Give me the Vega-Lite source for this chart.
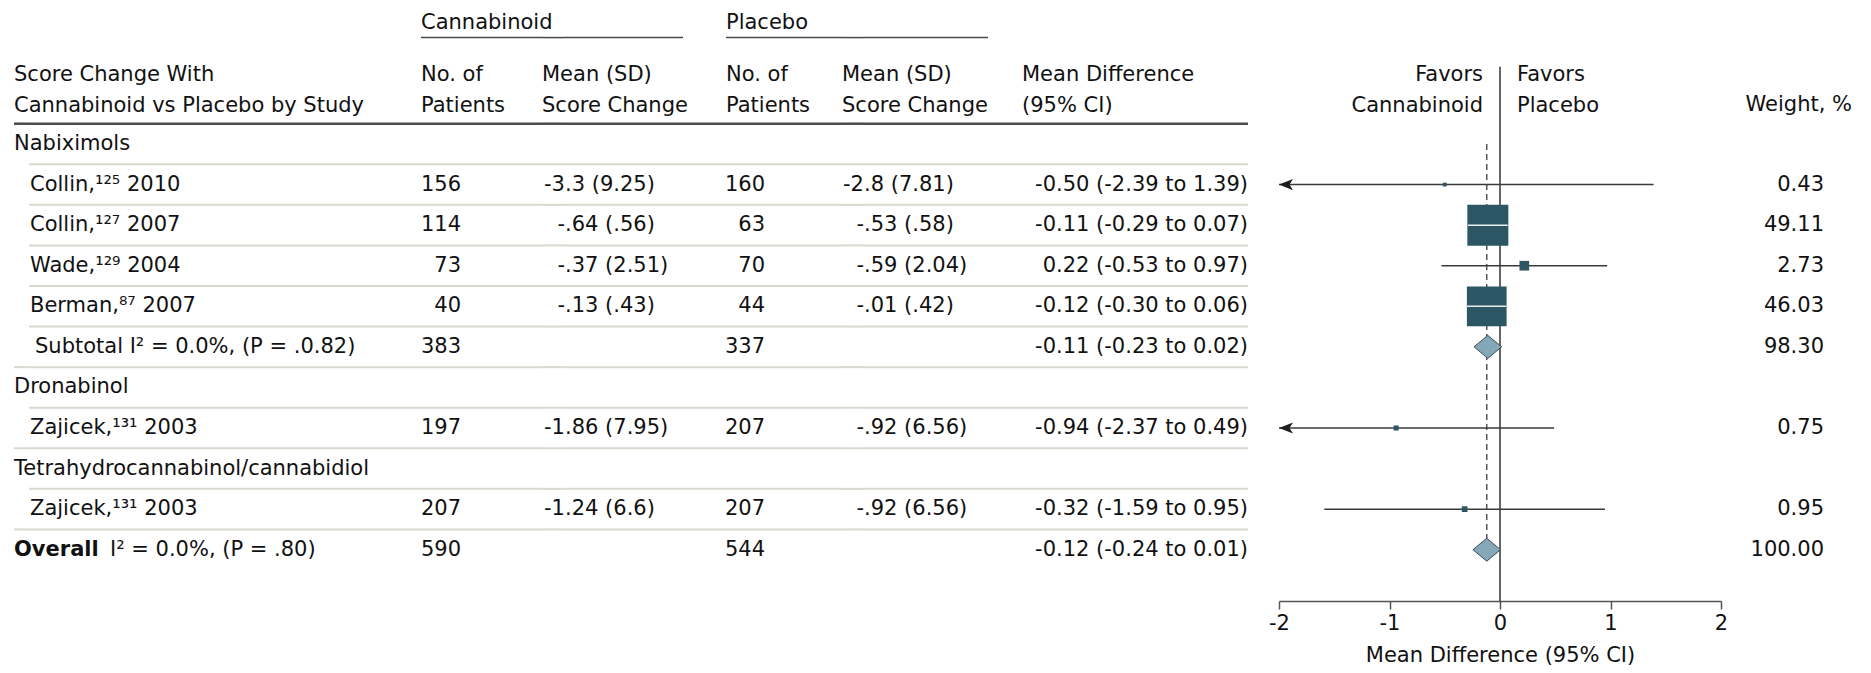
{
  "$schema": "https://vega.github.io/schema/vega-lite/v6.json",
  "background": "white",
  "padding": {"left": 12, "top": 0, "right": 0, "bottom": 0},
  "spacing": 0,
  "bounds": "flush",
  "datasets": {
    "rows": [
      {"id": "g1", "kind": "group", "label": "Nabiximols"},
      {"id": "s1", "kind": "study", "label": "Collin,¹²⁵ 2010", "cN": 156, "cInt": "-3", "cFrac": ".3 (9.25)", "pN": 160, "pInt": "-2", "pFrac": ".8 (7.81)", "md": -0.50, "lo": -2.39, "hi": 1.39, "mdText": "-0.50 (-2.39 to 1.39)", "weight": 0.43},
      {"id": "s2", "kind": "study", "label": "Collin,¹²⁷ 2007", "cN": 114, "cInt": "-", "cFrac": ".64 (.56)", "pN": 63, "pInt": "-", "pFrac": ".53 (.58)", "md": -0.11, "lo": -0.29, "hi": 0.07, "mdText": "-0.11 (-0.29 to 0.07)", "weight": 49.11},
      {"id": "s3", "kind": "study", "label": "Wade,¹²⁹ 2004", "cN": 73, "cInt": "-", "cFrac": ".37 (2.51)", "pN": 70, "pInt": "-", "pFrac": ".59 (2.04)", "md": 0.22, "lo": -0.53, "hi": 0.97, "mdText": "0.22 (-0.53 to 0.97)", "weight": 2.73},
      {"id": "s4", "kind": "study", "label": "Berman,⁸⁷ 2007", "cN": 40, "cInt": "-", "cFrac": ".13 (.43)", "pN": 44, "pInt": "-", "pFrac": ".01 (.42)", "md": -0.12, "lo": -0.30, "hi": 0.06, "mdText": "-0.12 (-0.30 to 0.06)", "weight": 46.03},
      {"id": "sub", "kind": "subtotal", "last": true, "label": "Subtotal  I² = 0.0%, (P = .0.82)", "cN": 383, "pN": 337, "md": -0.11, "lo": -0.23, "hi": 0.02, "mdText": "-0.11 (-0.23 to 0.02)", "weight": 98.30},
      {"id": "g2", "kind": "group", "label": "Dronabinol"},
      {"id": "s5", "kind": "study", "last": true, "label": "Zajicek,¹³¹ 2003", "cN": 197, "cInt": "-1", "cFrac": ".86 (7.95)", "pN": 207, "pInt": "-", "pFrac": ".92 (6.56)", "md": -0.94, "lo": -2.37, "hi": 0.49, "mdText": "-0.94 (-2.37 to 0.49)", "weight": 0.75},
      {"id": "g3", "kind": "group", "label": "Tetrahydrocannabinol/cannabidiol"},
      {"id": "s6", "kind": "study", "last": true, "label": "Zajicek,¹³¹ 2003", "cN": 207, "cInt": "-1", "cFrac": ".24 (6.6)", "pN": 207, "pInt": "-", "pFrac": ".92 (6.56)", "md": -0.32, "lo": -1.59, "hi": 0.95, "mdText": "-0.32 (-1.59 to 0.95)", "weight": 0.95},
      {"id": "ov", "kind": "overall", "label": "Overall", "stat": "I² = 0.0%, (P = .80)", "cN": 590, "pN": 544, "md": -0.12, "lo": -0.24, "hi": 0.01, "mdText": "-0.12 (-0.24 to 0.01)", "weight": 100.00}
    ],
    "headers": [
      {"col": "label", "text": "Score Change With\nCannabinoid vs Placebo by Study"},
      {"col": "cN", "text": "No. of\nPatients"},
      {"col": "cMean", "text": "Mean (SD)\nScore Change"},
      {"col": "pN", "text": "No. of\nPatients"},
      {"col": "pMean", "text": "Mean (SD)\nScore Change"},
      {"col": "md", "text": "Mean Difference\n(95% CI)"},
      {"col": "favL", "text": "Favors\nCannabinoid"},
      {"col": "favR", "text": "Favors\nPlacebo"},
      {"col": "wt", "text": "Weight, %"},
      {"col": "grpC", "text": "Cannabinoid"},
      {"col": "grpP", "text": "Placebo"}
    ]
  },
  "data": {"name": "rows"},
  "hconcat": [
    {
      "width": 15, "height": 601,
      "layer": [
        {"transform": [{"filter": "datum.last == true"}], "mark": {"type": "rule", "stroke": "#d8d8cf", "strokeWidth": 2}, "encoding": {"y": {"field": "id", "type": "nominal", "scale": {"type": "band", "domain": ["h0","h1","h2","g1","s1","s2","s3","s4","sub","g2","s5","g3","s6","ov"], "range": [2, 570], "paddingInner": 0, "paddingOuter": 0}, "axis": null, "bandPosition": 1}}},
        {"transform": [{"filter": "datum.id == 'g1'"}], "mark": {"type": "rule", "stroke": "#4a4a4a", "strokeWidth": 2.5}, "encoding": {"y": {"field": "id", "type": "nominal", "axis": null, "bandPosition": 0}}},
        {"data": {"name": "headers"}, "transform": [{"filter": "datum.col == 'label'"}], "mark": {"type": "text", "align": "left", "dy": 12}, "encoding": {"x": {"datum": "c", "type": "nominal", "scale": {"type": "band", "domain": ["c"], "paddingInner": 0, "paddingOuter": 0}, "axis": null, "bandPosition": 0}, "y": {"datum": "h1", "type": "nominal", "axis": null}, "text": {"field": "text", "type": "nominal"}}},
        {"transform": [{"filter": "datum.kind == 'group'"}], "mark": {"type": "text", "align": "left"}, "encoding": {"x": {"datum": "c", "type": "nominal", "axis": null, "bandPosition": 0}, "y": {"field": "id", "type": "nominal", "axis": null}, "text": {"field": "label", "type": "nominal"}}},
        {"transform": [{"filter": "datum.kind == 'overall'"}], "mark": {"type": "text", "align": "left", "fontWeight": "bold"}, "encoding": {"x": {"datum": "c", "type": "nominal", "axis": null, "bandPosition": 0}, "y": {"field": "id", "type": "nominal", "axis": null}, "text": {"field": "label", "type": "nominal"}}},
        {"transform": [{"filter": "datum.kind == 'overall'"}], "mark": {"type": "text", "align": "left", "dx": 96}, "encoding": {"x": {"datum": "c", "type": "nominal", "axis": null, "bandPosition": 0}, "y": {"field": "id", "type": "nominal", "axis": null}, "text": {"field": "stat", "type": "nominal"}}}
      ]
    },
    {
      "width": 392, "height": 601,
      "layer": [
        {"transform": [{"filter": "datum.kind != 'overall'"}], "mark": {"type": "rule", "stroke": "#d8d8cf", "strokeWidth": 2}, "encoding": {"y": {"field": "id", "type": "nominal", "scale": {"type": "band", "domain": ["h0","h1","h2","g1","s1","s2","s3","s4","sub","g2","s5","g3","s6","ov"], "range": [2, 570], "paddingInner": 0, "paddingOuter": 0}, "axis": null, "bandPosition": 1}}},
        {"transform": [{"filter": "datum.id == 'g1'"}], "mark": {"type": "rule", "stroke": "#4a4a4a", "strokeWidth": 2.5}, "encoding": {"y": {"field": "id", "type": "nominal", "axis": null, "bandPosition": 0}}},
        {"transform": [{"filter": "datum.kind == 'study'"}], "mark": {"type": "text", "align": "left", "dx": 1}, "encoding": {"x": {"datum": "c", "type": "nominal", "scale": {"type": "band", "domain": ["c"], "paddingInner": 0, "paddingOuter": 0}, "axis": null, "bandPosition": 0}, "y": {"field": "id", "type": "nominal", "axis": null}, "text": {"field": "label", "type": "nominal"}}},
        {"transform": [{"filter": "datum.kind == 'subtotal'"}], "mark": {"type": "text", "align": "left", "dx": 6}, "encoding": {"x": {"datum": "c", "type": "nominal", "axis": null, "bandPosition": 0}, "y": {"field": "id", "type": "nominal", "axis": null}, "text": {"field": "label", "type": "nominal"}}}
      ]
    },
    {
      "width": 40, "height": 601,
      "layer": [
        {"transform": [{"filter": "datum.kind != 'overall'"}], "mark": {"type": "rule", "stroke": "#d8d8cf", "strokeWidth": 2}, "encoding": {"y": {"field": "id", "type": "nominal", "scale": {"type": "band", "domain": ["h0","h1","h2","g1","s1","s2","s3","s4","sub","g2","s5","g3","s6","ov"], "range": [2, 570], "paddingInner": 0, "paddingOuter": 0}, "axis": null, "bandPosition": 1}}},
        {"transform": [{"filter": "datum.id == 'g1'"}], "mark": {"type": "rule", "stroke": "#4a4a4a", "strokeWidth": 2.5}, "encoding": {"y": {"field": "id", "type": "nominal", "axis": null, "bandPosition": 0}}},
        {"transform": [{"filter": "datum.id == 'g1'"}], "mark": {"type": "rule", "stroke": "#4a4a4a", "strokeWidth": 1.5, "yOffset": -5}, "encoding": {"y": {"datum": "h0", "type": "nominal", "axis": null, "bandPosition": 1}}},
        {"data": {"name": "headers"}, "transform": [{"filter": "datum.col == 'cN'"}], "mark": {"type": "text", "align": "left", "dy": 12}, "encoding": {"x": {"datum": "c", "type": "nominal", "scale": {"type": "band", "domain": ["c"], "paddingInner": 0, "paddingOuter": 0}, "axis": null, "bandPosition": 0}, "y": {"datum": "h1", "type": "nominal", "axis": null}, "text": {"field": "text", "type": "nominal"}}},
        {"data": {"name": "headers"}, "transform": [{"filter": "datum.col == 'grpC'"}], "mark": {"type": "text", "align": "left", "dy": 1}, "encoding": {"x": {"datum": "c", "type": "nominal", "axis": null, "bandPosition": 0}, "y": {"datum": "h0", "type": "nominal", "axis": null}, "text": {"field": "text", "type": "nominal"}}},
        {"transform": [{"filter": "isValid(datum.cN)"}], "mark": {"type": "text", "align": "right"}, "encoding": {"x": {"datum": "c", "type": "nominal", "axis": null, "bandPosition": 1}, "y": {"field": "id", "type": "nominal", "axis": null}, "text": {"field": "cN", "type": "quantitative", "format": "d"}}}
      ]
    },
    {
      "width": 81, "height": 601,
      "layer": [
        {"transform": [{"filter": "datum.kind != 'overall'"}], "mark": {"type": "rule", "stroke": "#d8d8cf", "strokeWidth": 2}, "encoding": {"y": {"field": "id", "type": "nominal", "scale": {"type": "band", "domain": ["h0","h1","h2","g1","s1","s2","s3","s4","sub","g2","s5","g3","s6","ov"], "range": [2, 570], "paddingInner": 0, "paddingOuter": 0}, "axis": null, "bandPosition": 1}}},
        {"transform": [{"filter": "datum.id == 'g1'"}], "mark": {"type": "rule", "stroke": "#4a4a4a", "strokeWidth": 2.5}, "encoding": {"y": {"field": "id", "type": "nominal", "axis": null, "bandPosition": 0}}},
        {"transform": [{"filter": "datum.id == 'g1'"}], "mark": {"type": "rule", "stroke": "#4a4a4a", "strokeWidth": 1.5, "yOffset": -5}, "encoding": {"y": {"datum": "h0", "type": "nominal", "axis": null, "bandPosition": 1}}}
      ]
    },
    {
      "width": 23, "height": 601,
      "layer": [
        {"transform": [{"filter": "datum.kind != 'overall'"}], "mark": {"type": "rule", "stroke": "#d8d8cf", "strokeWidth": 2}, "encoding": {"y": {"field": "id", "type": "nominal", "scale": {"type": "band", "domain": ["h0","h1","h2","g1","s1","s2","s3","s4","sub","g2","s5","g3","s6","ov"], "range": [2, 570], "paddingInner": 0, "paddingOuter": 0}, "axis": null, "bandPosition": 1}}},
        {"transform": [{"filter": "datum.id == 'g1'"}], "mark": {"type": "rule", "stroke": "#4a4a4a", "strokeWidth": 2.5}, "encoding": {"y": {"field": "id", "type": "nominal", "axis": null, "bandPosition": 0}}},
        {"transform": [{"filter": "datum.id == 'g1'"}], "mark": {"type": "rule", "stroke": "#4a4a4a", "strokeWidth": 1.5, "yOffset": -5}, "encoding": {"y": {"datum": "h0", "type": "nominal", "axis": null, "bandPosition": 1}}},
        {"data": {"name": "headers"}, "transform": [{"filter": "datum.col == 'cMean'"}], "mark": {"type": "text", "align": "left", "dy": 12}, "encoding": {"x": {"datum": "c", "type": "nominal", "scale": {"type": "band", "domain": ["c"], "paddingInner": 0, "paddingOuter": 0}, "axis": null, "bandPosition": 0}, "y": {"datum": "h1", "type": "nominal", "axis": null}, "text": {"field": "text", "type": "nominal"}}},
        {"transform": [{"filter": "isValid(datum.cInt)"}], "mark": {"type": "text", "align": "right"}, "encoding": {"x": {"datum": "c", "type": "nominal", "axis": null, "bandPosition": 1}, "y": {"field": "id", "type": "nominal", "axis": null}, "text": {"field": "cInt", "type": "nominal"}}}
      ]
    },
    {
      "width": 118, "height": 601,
      "layer": [
        {"transform": [{"filter": "datum.kind != 'overall'"}], "mark": {"type": "rule", "stroke": "#d8d8cf", "strokeWidth": 2}, "encoding": {"y": {"field": "id", "type": "nominal", "scale": {"type": "band", "domain": ["h0","h1","h2","g1","s1","s2","s3","s4","sub","g2","s5","g3","s6","ov"], "range": [2, 570], "paddingInner": 0, "paddingOuter": 0}, "axis": null, "bandPosition": 1}}},
        {"transform": [{"filter": "datum.id == 'g1'"}], "mark": {"type": "rule", "stroke": "#4a4a4a", "strokeWidth": 2.5}, "encoding": {"y": {"field": "id", "type": "nominal", "axis": null, "bandPosition": 0}}},
        {"transform": [{"filter": "datum.id == 'g1'"}], "mark": {"type": "rule", "stroke": "#4a4a4a", "strokeWidth": 1.5, "yOffset": -5}, "encoding": {"y": {"datum": "h0", "type": "nominal", "axis": null, "bandPosition": 1}}},
        {"transform": [{"filter": "isValid(datum.cFrac)"}], "mark": {"type": "text", "align": "left"}, "encoding": {"x": {"datum": "c", "type": "nominal", "scale": {"type": "band", "domain": ["c"], "paddingInner": 0, "paddingOuter": 0}, "axis": null, "bandPosition": 0}, "y": {"field": "id", "type": "nominal", "axis": null}, "text": {"field": "cFrac", "type": "nominal"}}}
      ]
    },
    {
      "width": 43, "height": 601,
      "layer": [
        {"transform": [{"filter": "datum.kind != 'overall'"}], "mark": {"type": "rule", "stroke": "#d8d8cf", "strokeWidth": 2}, "encoding": {"y": {"field": "id", "type": "nominal", "scale": {"type": "band", "domain": ["h0","h1","h2","g1","s1","s2","s3","s4","sub","g2","s5","g3","s6","ov"], "range": [2, 570], "paddingInner": 0, "paddingOuter": 0}, "axis": null, "bandPosition": 1}}},
        {"transform": [{"filter": "datum.id == 'g1'"}], "mark": {"type": "rule", "stroke": "#4a4a4a", "strokeWidth": 2.5}, "encoding": {"y": {"field": "id", "type": "nominal", "axis": null, "bandPosition": 0}}}
      ]
    },
    {
      "width": 39, "height": 601,
      "layer": [
        {"transform": [{"filter": "datum.kind != 'overall'"}], "mark": {"type": "rule", "stroke": "#d8d8cf", "strokeWidth": 2}, "encoding": {"y": {"field": "id", "type": "nominal", "scale": {"type": "band", "domain": ["h0","h1","h2","g1","s1","s2","s3","s4","sub","g2","s5","g3","s6","ov"], "range": [2, 570], "paddingInner": 0, "paddingOuter": 0}, "axis": null, "bandPosition": 1}}},
        {"transform": [{"filter": "datum.id == 'g1'"}], "mark": {"type": "rule", "stroke": "#4a4a4a", "strokeWidth": 2.5}, "encoding": {"y": {"field": "id", "type": "nominal", "axis": null, "bandPosition": 0}}},
        {"transform": [{"filter": "datum.id == 'g1'"}], "mark": {"type": "rule", "stroke": "#4a4a4a", "strokeWidth": 1.5, "yOffset": -5}, "encoding": {"y": {"datum": "h0", "type": "nominal", "axis": null, "bandPosition": 1}}},
        {"data": {"name": "headers"}, "transform": [{"filter": "datum.col == 'pN'"}], "mark": {"type": "text", "align": "left", "dy": 12}, "encoding": {"x": {"datum": "c", "type": "nominal", "scale": {"type": "band", "domain": ["c"], "paddingInner": 0, "paddingOuter": 0}, "axis": null, "bandPosition": 0}, "y": {"datum": "h1", "type": "nominal", "axis": null}, "text": {"field": "text", "type": "nominal"}}},
        {"data": {"name": "headers"}, "transform": [{"filter": "datum.col == 'grpP'"}], "mark": {"type": "text", "align": "left", "dy": 1}, "encoding": {"x": {"datum": "c", "type": "nominal", "axis": null, "bandPosition": 0}, "y": {"datum": "h0", "type": "nominal", "axis": null}, "text": {"field": "text", "type": "nominal"}}},
        {"transform": [{"filter": "isValid(datum.pN)"}], "mark": {"type": "text", "align": "right"}, "encoding": {"x": {"datum": "c", "type": "nominal", "axis": null, "bandPosition": 1}, "y": {"field": "id", "type": "nominal", "axis": null}, "text": {"field": "pN", "type": "quantitative", "format": "d"}}}
      ]
    },
    {
      "width": 77, "height": 601,
      "layer": [
        {"transform": [{"filter": "datum.kind != 'overall'"}], "mark": {"type": "rule", "stroke": "#d8d8cf", "strokeWidth": 2}, "encoding": {"y": {"field": "id", "type": "nominal", "scale": {"type": "band", "domain": ["h0","h1","h2","g1","s1","s2","s3","s4","sub","g2","s5","g3","s6","ov"], "range": [2, 570], "paddingInner": 0, "paddingOuter": 0}, "axis": null, "bandPosition": 1}}},
        {"transform": [{"filter": "datum.id == 'g1'"}], "mark": {"type": "rule", "stroke": "#4a4a4a", "strokeWidth": 2.5}, "encoding": {"y": {"field": "id", "type": "nominal", "axis": null, "bandPosition": 0}}},
        {"transform": [{"filter": "datum.id == 'g1'"}], "mark": {"type": "rule", "stroke": "#4a4a4a", "strokeWidth": 1.5, "yOffset": -5}, "encoding": {"y": {"datum": "h0", "type": "nominal", "axis": null, "bandPosition": 1}}}
      ]
    },
    {
      "width": 22, "height": 601,
      "layer": [
        {"transform": [{"filter": "datum.kind != 'overall'"}], "mark": {"type": "rule", "stroke": "#d8d8cf", "strokeWidth": 2}, "encoding": {"y": {"field": "id", "type": "nominal", "scale": {"type": "band", "domain": ["h0","h1","h2","g1","s1","s2","s3","s4","sub","g2","s5","g3","s6","ov"], "range": [2, 570], "paddingInner": 0, "paddingOuter": 0}, "axis": null, "bandPosition": 1}}},
        {"transform": [{"filter": "datum.id == 'g1'"}], "mark": {"type": "rule", "stroke": "#4a4a4a", "strokeWidth": 2.5}, "encoding": {"y": {"field": "id", "type": "nominal", "axis": null, "bandPosition": 0}}},
        {"transform": [{"filter": "datum.id == 'g1'"}], "mark": {"type": "rule", "stroke": "#4a4a4a", "strokeWidth": 1.5, "yOffset": -5}, "encoding": {"y": {"datum": "h0", "type": "nominal", "axis": null, "bandPosition": 1}}},
        {"data": {"name": "headers"}, "transform": [{"filter": "datum.col == 'pMean'"}], "mark": {"type": "text", "align": "left", "dy": 12}, "encoding": {"x": {"datum": "c", "type": "nominal", "scale": {"type": "band", "domain": ["c"], "paddingInner": 0, "paddingOuter": 0}, "axis": null, "bandPosition": 0}, "y": {"datum": "h1", "type": "nominal", "axis": null}, "text": {"field": "text", "type": "nominal"}}},
        {"transform": [{"filter": "isValid(datum.pInt)"}], "mark": {"type": "text", "align": "right"}, "encoding": {"x": {"datum": "c", "type": "nominal", "axis": null, "bandPosition": 1}, "y": {"field": "id", "type": "nominal", "axis": null}, "text": {"field": "pInt", "type": "nominal"}}}
      ]
    },
    {
      "width": 124, "height": 601,
      "layer": [
        {"transform": [{"filter": "datum.kind != 'overall'"}], "mark": {"type": "rule", "stroke": "#d8d8cf", "strokeWidth": 2}, "encoding": {"y": {"field": "id", "type": "nominal", "scale": {"type": "band", "domain": ["h0","h1","h2","g1","s1","s2","s3","s4","sub","g2","s5","g3","s6","ov"], "range": [2, 570], "paddingInner": 0, "paddingOuter": 0}, "axis": null, "bandPosition": 1}}},
        {"transform": [{"filter": "datum.id == 'g1'"}], "mark": {"type": "rule", "stroke": "#4a4a4a", "strokeWidth": 2.5}, "encoding": {"y": {"field": "id", "type": "nominal", "axis": null, "bandPosition": 0}}},
        {"transform": [{"filter": "datum.id == 'g1'"}], "mark": {"type": "rule", "stroke": "#4a4a4a", "strokeWidth": 1.5, "yOffset": -5}, "encoding": {"y": {"datum": "h0", "type": "nominal", "axis": null, "bandPosition": 1}}},
        {"transform": [{"filter": "isValid(datum.pFrac)"}], "mark": {"type": "text", "align": "left"}, "encoding": {"x": {"datum": "c", "type": "nominal", "scale": {"type": "band", "domain": ["c"], "paddingInner": 0, "paddingOuter": 0}, "axis": null, "bandPosition": 0}, "y": {"field": "id", "type": "nominal", "axis": null}, "text": {"field": "pFrac", "type": "nominal"}}}
      ]
    },
    {
      "width": 34, "height": 601,
      "layer": [
        {"transform": [{"filter": "datum.kind != 'overall'"}], "mark": {"type": "rule", "stroke": "#d8d8cf", "strokeWidth": 2}, "encoding": {"y": {"field": "id", "type": "nominal", "scale": {"type": "band", "domain": ["h0","h1","h2","g1","s1","s2","s3","s4","sub","g2","s5","g3","s6","ov"], "range": [2, 570], "paddingInner": 0, "paddingOuter": 0}, "axis": null, "bandPosition": 1}}},
        {"transform": [{"filter": "datum.id == 'g1'"}], "mark": {"type": "rule", "stroke": "#4a4a4a", "strokeWidth": 2.5}, "encoding": {"y": {"field": "id", "type": "nominal", "axis": null, "bandPosition": 0}}}
      ]
    },
    {
      "width": 226, "height": 601,
      "layer": [
        {"transform": [{"filter": "datum.kind != 'overall'"}], "mark": {"type": "rule", "stroke": "#d8d8cf", "strokeWidth": 2}, "encoding": {"y": {"field": "id", "type": "nominal", "scale": {"type": "band", "domain": ["h0","h1","h2","g1","s1","s2","s3","s4","sub","g2","s5","g3","s6","ov"], "range": [2, 570], "paddingInner": 0, "paddingOuter": 0}, "axis": null, "bandPosition": 1}}},
        {"transform": [{"filter": "datum.id == 'g1'"}], "mark": {"type": "rule", "stroke": "#4a4a4a", "strokeWidth": 2.5}, "encoding": {"y": {"field": "id", "type": "nominal", "axis": null, "bandPosition": 0}}},
        {"data": {"name": "headers"}, "transform": [{"filter": "datum.col == 'md'"}], "mark": {"type": "text", "align": "left", "dy": 12}, "encoding": {"x": {"datum": "c", "type": "nominal", "scale": {"type": "band", "domain": ["c"], "paddingInner": 0, "paddingOuter": 0}, "axis": null, "bandPosition": 0}, "y": {"datum": "h1", "type": "nominal", "axis": null}, "text": {"field": "text", "type": "nominal"}}},
        {"transform": [{"filter": "isValid(datum.mdText)"}], "mark": {"type": "text", "align": "right"}, "encoding": {"x": {"datum": "c", "type": "nominal", "axis": null, "bandPosition": 1}, "y": {"field": "id", "type": "nominal", "axis": null}, "text": {"field": "mdText", "type": "nominal"}}}
      ]
    },
    {
      "width": 31, "height": 601,
      "data": {"values": []},
      "mark": {"type": "point", "opacity": 0},
      "encoding": {}
    },
    {
      "width": 442, "height": 601,
      "layer": [
        {"transform": [{"filter": "datum.id == 'ov'"}], "mark": {"type": "rule", "stroke": "#333333", "strokeWidth": 1.5, "yOffset": 4, "y2Offset": 51.5},
         "encoding": {
           "x": {"datum": 0, "type": "quantitative", "scale": {"domain": [-2, 2], "clamp": true, "nice": false, "zero": false},
                 "axis": {"values": [-2, -1, 0, 1, 2], "title": "Mean Difference (95% CI)", "labelExpr": "datum.value + ''", "grid": false, "labelFlush": false}},
           "y": {"datum": "h1", "type": "nominal", "scale": {"type": "band", "domain": ["h0","h1","h2","g1","s1","s2","s3","s4","sub","g2","s5","g3","s6","ov"], "range": [2, 570], "paddingInner": 0, "paddingOuter": 0}, "axis": null},
           "y2": {"datum": "ov"}
         }},
        {"transform": [{"filter": "datum.id == 'ov'"}], "mark": {"type": "rule", "stroke": "#555555", "strokeWidth": 1.5, "strokeDash": [6, 4]},
         "encoding": {"x": {"field": "md", "type": "quantitative"}, "y": {"datum": "g1", "type": "nominal", "axis": null}, "y2": {"datum": "ov"}}},
        {"transform": [{"filter": "datum.kind == 'study'"}], "mark": {"type": "rule", "stroke": "#3a3a3a", "strokeWidth": 1.5},
         "encoding": {"x": {"field": "lo", "type": "quantitative"}, "x2": {"field": "hi"}, "y": {"field": "id", "type": "nominal", "axis": null}}},
        {"transform": [{"filter": "datum.kind == 'study' && datum.lo < -2"}], "mark": {"type": "point", "shape": "M0,0L2,-0.8L1.5,0L2,0.8Z", "filled": true, "color": "#1e1e1e", "size": 196, "opacity": 1},
         "encoding": {"x": {"field": "lo", "type": "quantitative"}, "y": {"field": "id", "type": "nominal", "axis": null}}},
        {"transform": [{"filter": "datum.kind == 'study'"}], "mark": {"type": "point", "shape": "square", "filled": true, "color": "#2d5665", "opacity": 1},
         "encoding": {"x": {"field": "md", "type": "quantitative"}, "y": {"field": "id", "type": "nominal", "axis": null},
                      "size": {"field": "weight", "type": "quantitative", "scale": {"domain": [0, 50], "range": [0, 1711]}, "legend": null}}},
        {"transform": [{"filter": "datum.kind == 'study' && datum.weight > 10"}], "mark": {"type": "rule", "stroke": "#e8eef0", "strokeWidth": 1.5},
         "encoding": {"x": {"field": "lo", "type": "quantitative"}, "x2": {"field": "hi"}, "y": {"field": "id", "type": "nominal", "axis": null}}},
        {"transform": [{"filter": "datum.kind == 'subtotal' || datum.kind == 'overall'"}], "mark": {"type": "point", "shape": "M-1,0L0,-0.83L1,0L0,0.83Z", "filled": true, "fill": "#85a8b8", "stroke": "#3b4a52", "strokeWidth": 1, "size": 762, "opacity": 1},
         "encoding": {"x": {"field": "md", "type": "quantitative"}, "y": {"field": "id", "type": "nominal", "axis": null}}},
        {"data": {"name": "headers"}, "transform": [{"filter": "datum.col == 'favL'"}], "mark": {"type": "text", "align": "right", "dx": -17, "dy": 12},
         "encoding": {"x": {"datum": 0, "type": "quantitative"}, "y": {"datum": "h1", "type": "nominal", "axis": null}, "text": {"field": "text", "type": "nominal"}}},
        {"data": {"name": "headers"}, "transform": [{"filter": "datum.col == 'favR'"}], "mark": {"type": "text", "align": "left", "dx": 17, "dy": 12},
         "encoding": {"x": {"datum": 0, "type": "quantitative"}, "y": {"datum": "h1", "type": "nominal", "axis": null}, "text": {"field": "text", "type": "nominal"}}}
      ]
    },
    {
      "width": 103, "height": 601,
      "layer": [
        {"transform": [{"filter": "isValid(datum.weight)"}], "mark": {"type": "text", "align": "right"},
         "encoding": {"x": {"datum": "c", "type": "nominal", "scale": {"type": "band", "domain": ["c"], "paddingInner": 0, "paddingOuter": 0}, "axis": null, "bandPosition": 1},
                      "y": {"field": "id", "type": "nominal", "scale": {"type": "band", "domain": ["h0","h1","h2","g1","s1","s2","s3","s4","sub","g2","s5","g3","s6","ov"], "range": [2, 570], "paddingInner": 0, "paddingOuter": 0}, "axis": null},
                      "text": {"field": "weight", "type": "quantitative", "format": ".2f"}}}
      ]
    },
    {
      "width": 28, "height": 601,
      "layer": [
        {"data": {"name": "headers"}, "transform": [{"filter": "datum.col == 'wt'"}], "mark": {"type": "text", "align": "right", "dy": 2},
         "encoding": {"x": {"datum": "c", "type": "nominal", "scale": {"type": "band", "domain": ["c"], "paddingInner": 0, "paddingOuter": 0}, "axis": null, "bandPosition": 1},
                      "y": {"datum": "h2", "type": "nominal", "scale": {"type": "band", "domain": ["h0","h1","h2","g1","s1","s2","s3","s4","sub","g2","s5","g3","s6","ov"], "range": [2, 570], "paddingInner": 0, "paddingOuter": 0}, "axis": null},
                      "text": {"field": "text", "type": "nominal"}}}
      ]
    }
  ],
  "config": {
    "view": {"stroke": null},
    "concat": {"spacing": 0},
    "text": {"font": "DejaVu Sans", "fontSize": 21, "color": "#111111", "baseline": "middle", "lineBreak": "\n", "lineHeight": 31},
    "axis": {
      "labelFont": "DejaVu Sans", "labelFontSize": 21, "labelColor": "#111111",
      "titleFont": "DejaVu Sans", "titleFontSize": 21, "titleFontWeight": "normal", "titleColor": "#111111",
      "domainColor": "#555555", "domainWidth": 1.5, "tickColor": "#555555", "tickWidth": 1.5, "tickSize": 8,
      "labelPadding": 3, "titlePadding": 11
    }
  }
}
